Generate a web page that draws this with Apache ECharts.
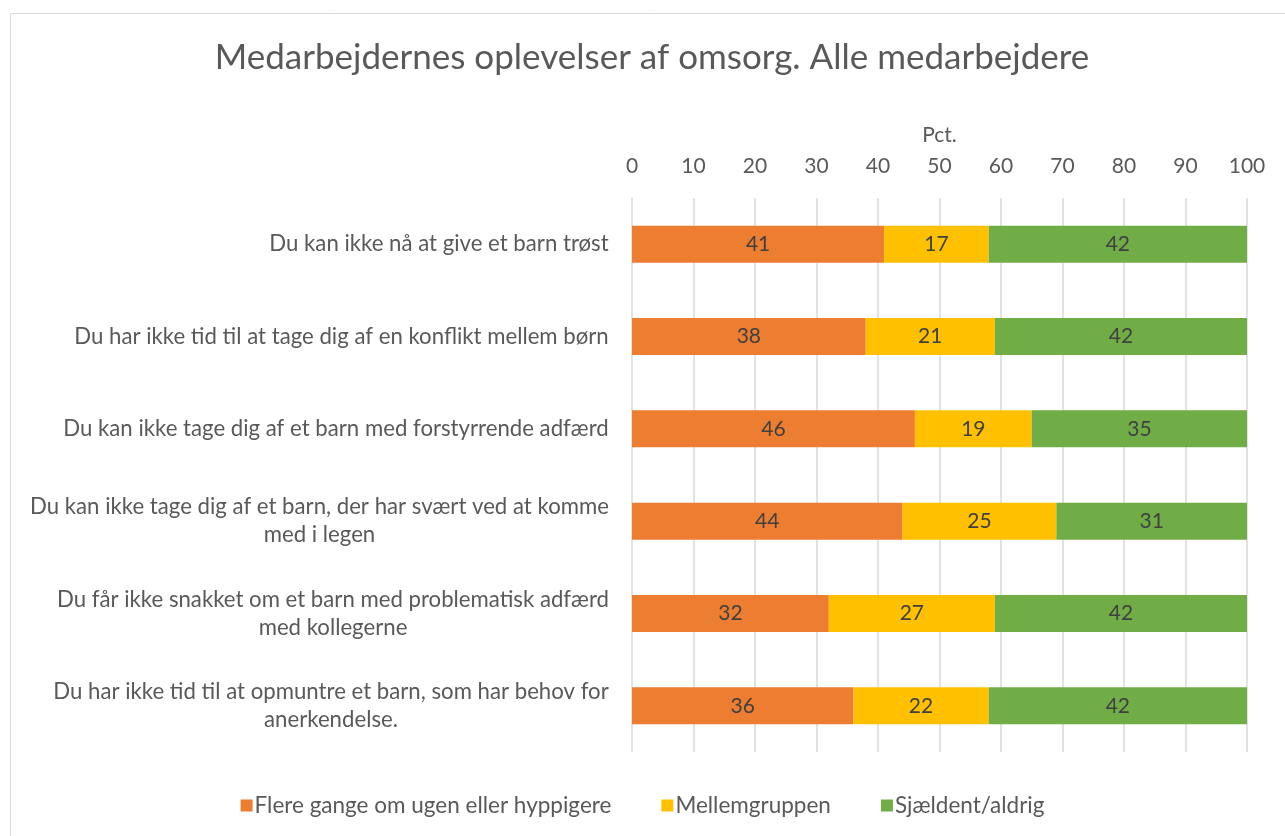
<!DOCTYPE html>
<html>
<head>
<meta charset="utf-8">
<script src="https://cdn.jsdelivr.net/npm/echarts@6/dist/echarts.min.js"></script>
<style>
html,body{margin:0;padding:0;background:#fff;}
#chart{width:1285px;height:836px;}
</style>
</head>
<body>
<div id="chart"></div>
<script>
const categories = [
  "Du kan ikke nå at give et barn trøst",
  "Du har ikke tid til at tage dig af en konflikt mellem børn",
  "Du kan ikke tage dig af et barn med forstyrrende adfærd",
  "Du kan ikke tage dig af et barn, der har svært ved at komme\nmed i legen",
  "Du får ikke snakket om et barn med problematisk adfærd\nmed kollegerne",
  "Du har ikke tid til at opmuntre et barn, som har behov for\nanerkendelse."
];
const seriesNames = ["Flere gange om ugen eller hyppigere", "Mellemgruppen", "Sjældent/aldrig"];
const often = [41, 38, 46, 44, 32, 36];
const middle = [17, 21, 19, 25, 27, 22];
const rarely = [42, 42, 35, 31, 42, 42];
const colors = ["#ED7D31", "#FFC000", "#70AD47"];
const FONT = "Lato";
const LBL = 21;
const CAT = 22.2;

// build per-label rich styles so multi-line labels are centred within their own block
const ctx = document.createElement('canvas').getContext('2d');
ctx.font = CAT + 'px ' + FONT;
const rich = {};
categories.forEach((c, i) => {
  const w = Math.max(...c.split('\n').map(s => ctx.measureText(s).width));
  rich['r' + i] = { width: Math.ceil(w) + 2, align: 'center', fontFamily: FONT, fontSize: CAT, color: '#595959', lineHeight: 28 };
});

const chart = echarts.init(document.getElementById('chart'));
const mk = (name, data, color) => ({
  name: name,
  type: 'bar',
  stack: 'total',
  data: data,
  barWidth: 37,
  itemStyle: { color: color },
  label: {
    show: true,
    position: 'inside',
    color: '#404040',
    fontFamily: FONT,
    fontSize: LBL
  },
  emphasis: { disabled: true }
});
chart.setOption({
  animation: false,
  textStyle: { fontFamily: FONT },
  graphic: [{
    type: 'rect',
    left: 8, top: 11,
    shape: { width: 1300, height: 840 },
    style: { fill: 'none', stroke: '#D9D9D9', lineWidth: 1 },
    silent: true
  }],
  title: {
    text: 'Medarbejdernes oplevelser af omsorg. Alle medarbejdere',
    left: 647, top: 35, textAlign: 'center',
    textStyle: { fontFamily: FONT, fontSize: 35, fontWeight: 'normal', color: '#595959' }
  },
  legend: {
    bottom: 14,
    left: 'center',
    itemWidth: 12, itemHeight: 12,
    itemGap: 50,
    icon: 'rect',
    textStyle: { fontFamily: FONT, fontSize: 22.5, color: '#595959', padding: [0, 0, 0, -3] },
    data: seriesNames
  },
  grid: { left: 632, right: 38, top: 198, bottom: 84, containLabel: false },
  xAxis: {
    type: 'value',
    position: 'top',
    min: 0, max: 100, interval: 10,
    name: 'Pct.',
    nameLocation: 'middle',
    nameGap: 52,
    nameTextStyle: { fontFamily: FONT, fontSize: LBL, color: '#595959' },
    axisLine: { show: false },
    axisTick: { show: false },
    axisLabel: { fontFamily: FONT, fontSize: LBL, color: '#595959', margin: 21 },
    splitLine: { show: true, lineStyle: { color: '#D9D9D9', width: 1.5 } }
  },
  yAxis: {
    type: 'category',
    inverse: true,
    data: categories,
    axisLine: { show: false },
    axisTick: { show: false },
    axisLabel: {
      margin: 22,
      align: 'right',
      formatter: (v, i) => '{r' + i + '|' + v + '}',
      rich: rich
    }
  },
  series: [
    mk(seriesNames[0], often, colors[0]),
    mk(seriesNames[1], middle, colors[1]),
    mk(seriesNames[2], rarely, colors[2])
  ]
});
</script>
</body>
</html>
